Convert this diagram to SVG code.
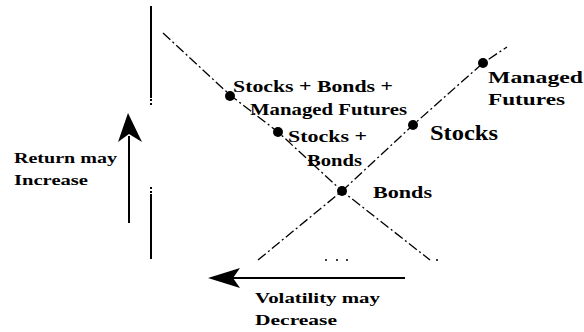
<svg xmlns="http://www.w3.org/2000/svg" width="584" height="332" viewBox="0 0 584 332">
<style>
text{font-family:"Liberation Serif","DejaVu Serif","Times New Roman",serif;font-weight:bold;fill:#000}
.ax{stroke:#000;stroke-width:2;fill:none}
.dd{stroke:#000;stroke-width:1.3;fill:none;stroke-dasharray:10 3 2 3}
.dot{fill:#000}
</style>
<rect width="584" height="332" fill="#fff"/>
<g id="axes">
<line class="ax" x1="151" y1="6" x2="151" y2="98"/>
<line class="ax" x1="151" y1="99" x2="151" y2="107" stroke-dasharray="2 2"/>
<line class="ax" x1="151" y1="187" x2="151" y2="194" stroke-dasharray="2 2"/>
<line class="ax" x1="151" y1="194" x2="151" y2="259"/>
</g>
<g id="connectors">
<polyline class="dd" points="163,33 230,95 278,132 342,191 430,260"/>
<polyline class="dd" points="258,260 342,191 413,125 483,63 507,47"/>
<circle cx="437" cy="260" r="1" class="dot"/>
<circle cx="326" cy="260" r="1" class="dot"/>
<circle cx="337" cy="260" r="1" class="dot"/>
<circle cx="347" cy="260" r="1" class="dot"/>
</g>
<g id="return-arrow">
<line class="ax" x1="129" y1="136" x2="129" y2="223"/>
<path d="M128,113 L142,142 L129,134 L118,142 Z" fill="#000"/>
<text x="14" y="163" font-size="15" textLength="103" lengthAdjust="spacingAndGlyphs">Return may</text>
<text x="14" y="185" font-size="15" textLength="74" lengthAdjust="spacingAndGlyphs">Increase</text>
</g>
<g id="volatility-arrow">
<line class="ax" x1="232" y1="278" x2="405" y2="278"/>
<path d="M208,278 L240,268 L233,278 L240,288 Z" fill="#000"/>
<text x="255" y="303" font-size="15" textLength="125" lengthAdjust="spacingAndGlyphs">Volatility may</text>
<text x="255" y="325" font-size="15" textLength="82" lengthAdjust="spacingAndGlyphs">Decrease</text>
</g>
<g id="node-sbm">
<circle cx="230" cy="96" r="5" class="dot"/>
<text x="233" y="92" font-size="17" textLength="160" lengthAdjust="spacingAndGlyphs">Stocks + Bonds +</text>
<text x="250" y="115" font-size="17" textLength="157" lengthAdjust="spacingAndGlyphs">Managed Futures</text>
</g>
<g id="node-sb">
<circle cx="278" cy="132" r="5" class="dot"/>
<text x="288" y="142" font-size="17" textLength="79" lengthAdjust="spacingAndGlyphs">Stocks +</text>
<text x="307" y="166" font-size="17" textLength="55" lengthAdjust="spacingAndGlyphs">Bonds</text>
</g>
<g id="node-bonds">
<circle cx="342" cy="191" r="5" class="dot"/>
<text x="373" y="198" font-size="17" textLength="59" lengthAdjust="spacingAndGlyphs">Bonds</text>
</g>
<g id="node-stocks">
<circle cx="413" cy="125" r="5" class="dot"/>
<text x="430" y="140" font-size="20" textLength="68" lengthAdjust="spacingAndGlyphs">Stocks</text>
</g>
<g id="node-mf">
<circle cx="483" cy="63" r="5" class="dot"/>
<text x="488" y="83" font-size="17" textLength="95" lengthAdjust="spacingAndGlyphs">Managed</text>
<text x="488" y="105" font-size="17" textLength="77" lengthAdjust="spacingAndGlyphs">Futures</text>
</g>
</svg>
